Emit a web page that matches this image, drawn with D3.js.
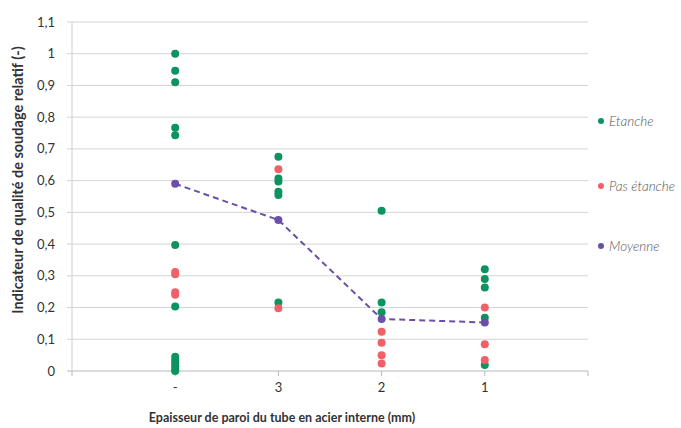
<!DOCTYPE html>
<html>
<head>
<meta charset="utf-8">
<script src="https://cdn.jsdelivr.net/npm/d3@7"></script>
<style>
  body { margin: 0; background: #fff; }
  text { font-family: Lato, "Open Sans", sans-serif; }
</style>
</head>
<body>
<div id="chart"></div>
<script>
// Categories (wall thickness) and tick labels
var categories = ["-", "3", "2", "1"];
var yTicks = [0, 0.1, 0.2, 0.3, 0.4, 0.5, 0.6, 0.7, 0.8, 0.9, 1, 1.1];

// Sealed points (category, value)
var etanche = [
  ["-", 1.0], ["-", 0.946], ["-", 0.91], ["-", 0.767], ["-", 0.743], ["-", 0.397], ["-", 0.203],
  ["-", 0.045], ["-", 0.035], ["-", 0.025], ["-", 0.015], ["-", 0.005], ["-", 0.0],
  ["3", 0.675], ["3", 0.607], ["3", 0.597], ["3", 0.565], ["3", 0.555], ["3", 0.216],
  ["2", 0.505], ["2", 0.216], ["2", 0.185],
  ["1", 0.321], ["1", 0.29], ["1", 0.263], ["1", 0.168], ["1", 0.019]
];
// Leaking points
var pasEtanche = [
  ["-", 0.312], ["-", 0.305], ["-", 0.248], ["-", 0.24],
  ["3", 0.636], ["3", 0.198],
  ["2", 0.124], ["2", 0.089], ["2", 0.05], ["2", 0.024],
  ["1", 0.2], ["1", 0.084], ["1", 0.035]
];
// Averages
var moyenne = [["-", 0.59], ["3", 0.476], ["2", 0.164], ["1", 0.153]];

var legendLabels = ["Etanche", "Pas étanche", "Moyenne"];
var colors = ["#0c9460", "#f06068", "#6a50a8"];

var width = 681, height = 428;
var margin = { top: 22, right: 93, bottom: 57, left: 72 };

var svg = d3.select("#chart")
  .append("svg")
  .attr("width", width)
  .attr("height", height);

var g = svg.append("g")
  .attr("transform", "translate(" + margin.left + "," + margin.top + ")");

var w = width - margin.left - margin.right,
  h = height - margin.top - margin.bottom;

// X: categories sit at positions 1..4 on a 0..5 axis
var x = d3.scaleLinear().domain([0, 5]).range([0, w]);
function xc(c) { return x(categories.indexOf(c) + 1); }

var y = d3.scaleLinear().domain([0, 1.1]).range([h, 0]);

// Gridlines
g.append("g")
  .selectAll("line")
  .data(yTicks)
  .enter()
  .append("line")
  .attr("x1", -5)
  .attr("x2", w)
  .attr("y1", function (d) { return y(d); })
  .attr("y2", function (d) { return y(d); })
  .attr("stroke", function (d) { return d === 0 ? "#b8b8b8" : "#d4d4d4"; })
  .attr("stroke-width", 1);

// Y axis line
g.append("line")
  .attr("x1", 0).attr("x2", 0)
  .attr("y1", y(1.1)).attr("y2", h)
  .attr("stroke", "#cfcfcf");

// Y tick labels
g.append("g")
  .selectAll("text")
  .data(yTicks)
  .enter()
  .append("text")
  .attr("x", -17)
  .attr("y", function (d) { return y(d); })
  .attr("dy", "0.35em")
  .attr("text-anchor", "end")
  .style("font-size", "13px")
  .style("fill", "#333")
  .text(function (d) { return d3.format(".1~f")(d).replace(".", ","); });

// X ticks
g.append("g")
  .selectAll("line")
  .data([0, 1, 2, 3, 4, 5])
  .enter()
  .append("line")
  .attr("x1", function (d) { return x(d); })
  .attr("x2", function (d) { return x(d); })
  .attr("y1", h)
  .attr("y2", h + 5)
  .attr("stroke", "#b8b8b8");

g.append("g")
  .selectAll("text")
  .data(categories)
  .enter()
  .append("text")
  .attr("x", function (d) { return xc(d); })
  .attr("y", h + 21)
  .attr("text-anchor", "middle")
  .style("font-size", "13px")
  .style("fill", "#333")
  .text(function (d) { return d; });

// Average dashed line
g.append("path")
  .datum(moyenne)
  .attr("d", d3.line()
    .x(function (d) { return xc(d[0]); })
    .y(function (d) { return y(d[1]); }))
  .attr("fill", "none")
  .attr("stroke", colors[2])
  .attr("stroke-width", 2)
  .attr("stroke-dasharray", "6,4");

// Points
[etanche, pasEtanche, moyenne].forEach(function (series, i) {
  g.append("g")
    .selectAll("circle")
    .data(series)
    .enter()
    .append("circle")
    .attr("cx", function (d) { return xc(d[0]); })
    .attr("cy", function (d) { return y(d[1]); })
    .attr("r", 4)
    .attr("fill", colors[i]);
});

// Legend
var legendY = [121, 186, 246];
var legend = svg.append("g")
  .selectAll("g")
  .data(legendLabels)
  .enter()
  .append("g")
  .attr("transform", function (d, i) { return "translate(601," + legendY[i] + ")"; });
legend.append("circle")
  .attr("r", 3)
  .attr("fill", function (d, i) { return colors[i]; });
legend.append("text")
  .attr("x", 8)
  .attr("dy", "0.35em")
  .style("font-size", "13.5px")
  .style("font-style", "italic")
  .style("font-weight", 300)
  .style("fill", "#555")
  .text(function (d) { return d; });

// Axis titles
svg.append("text")
  .attr("transform", "translate(23,180) rotate(-90)")
  .attr("text-anchor", "middle")
  .style("font-size", "14.5px")
  .style("font-weight", "bold")
  .style("fill", "#333")
  .text("Indicateur de qualité de soudage relatif (-)");

svg.append("text")
  .attr("x", 282)
  .attr("y", 422)
  .attr("text-anchor", "middle")
  .style("font-size", "12.5px")
  .style("font-weight", "bold")
  .style("fill", "#333")
  .text("Epaisseur de paroi du tube en acier interne (mm)");
</script>
</body>
</html>
